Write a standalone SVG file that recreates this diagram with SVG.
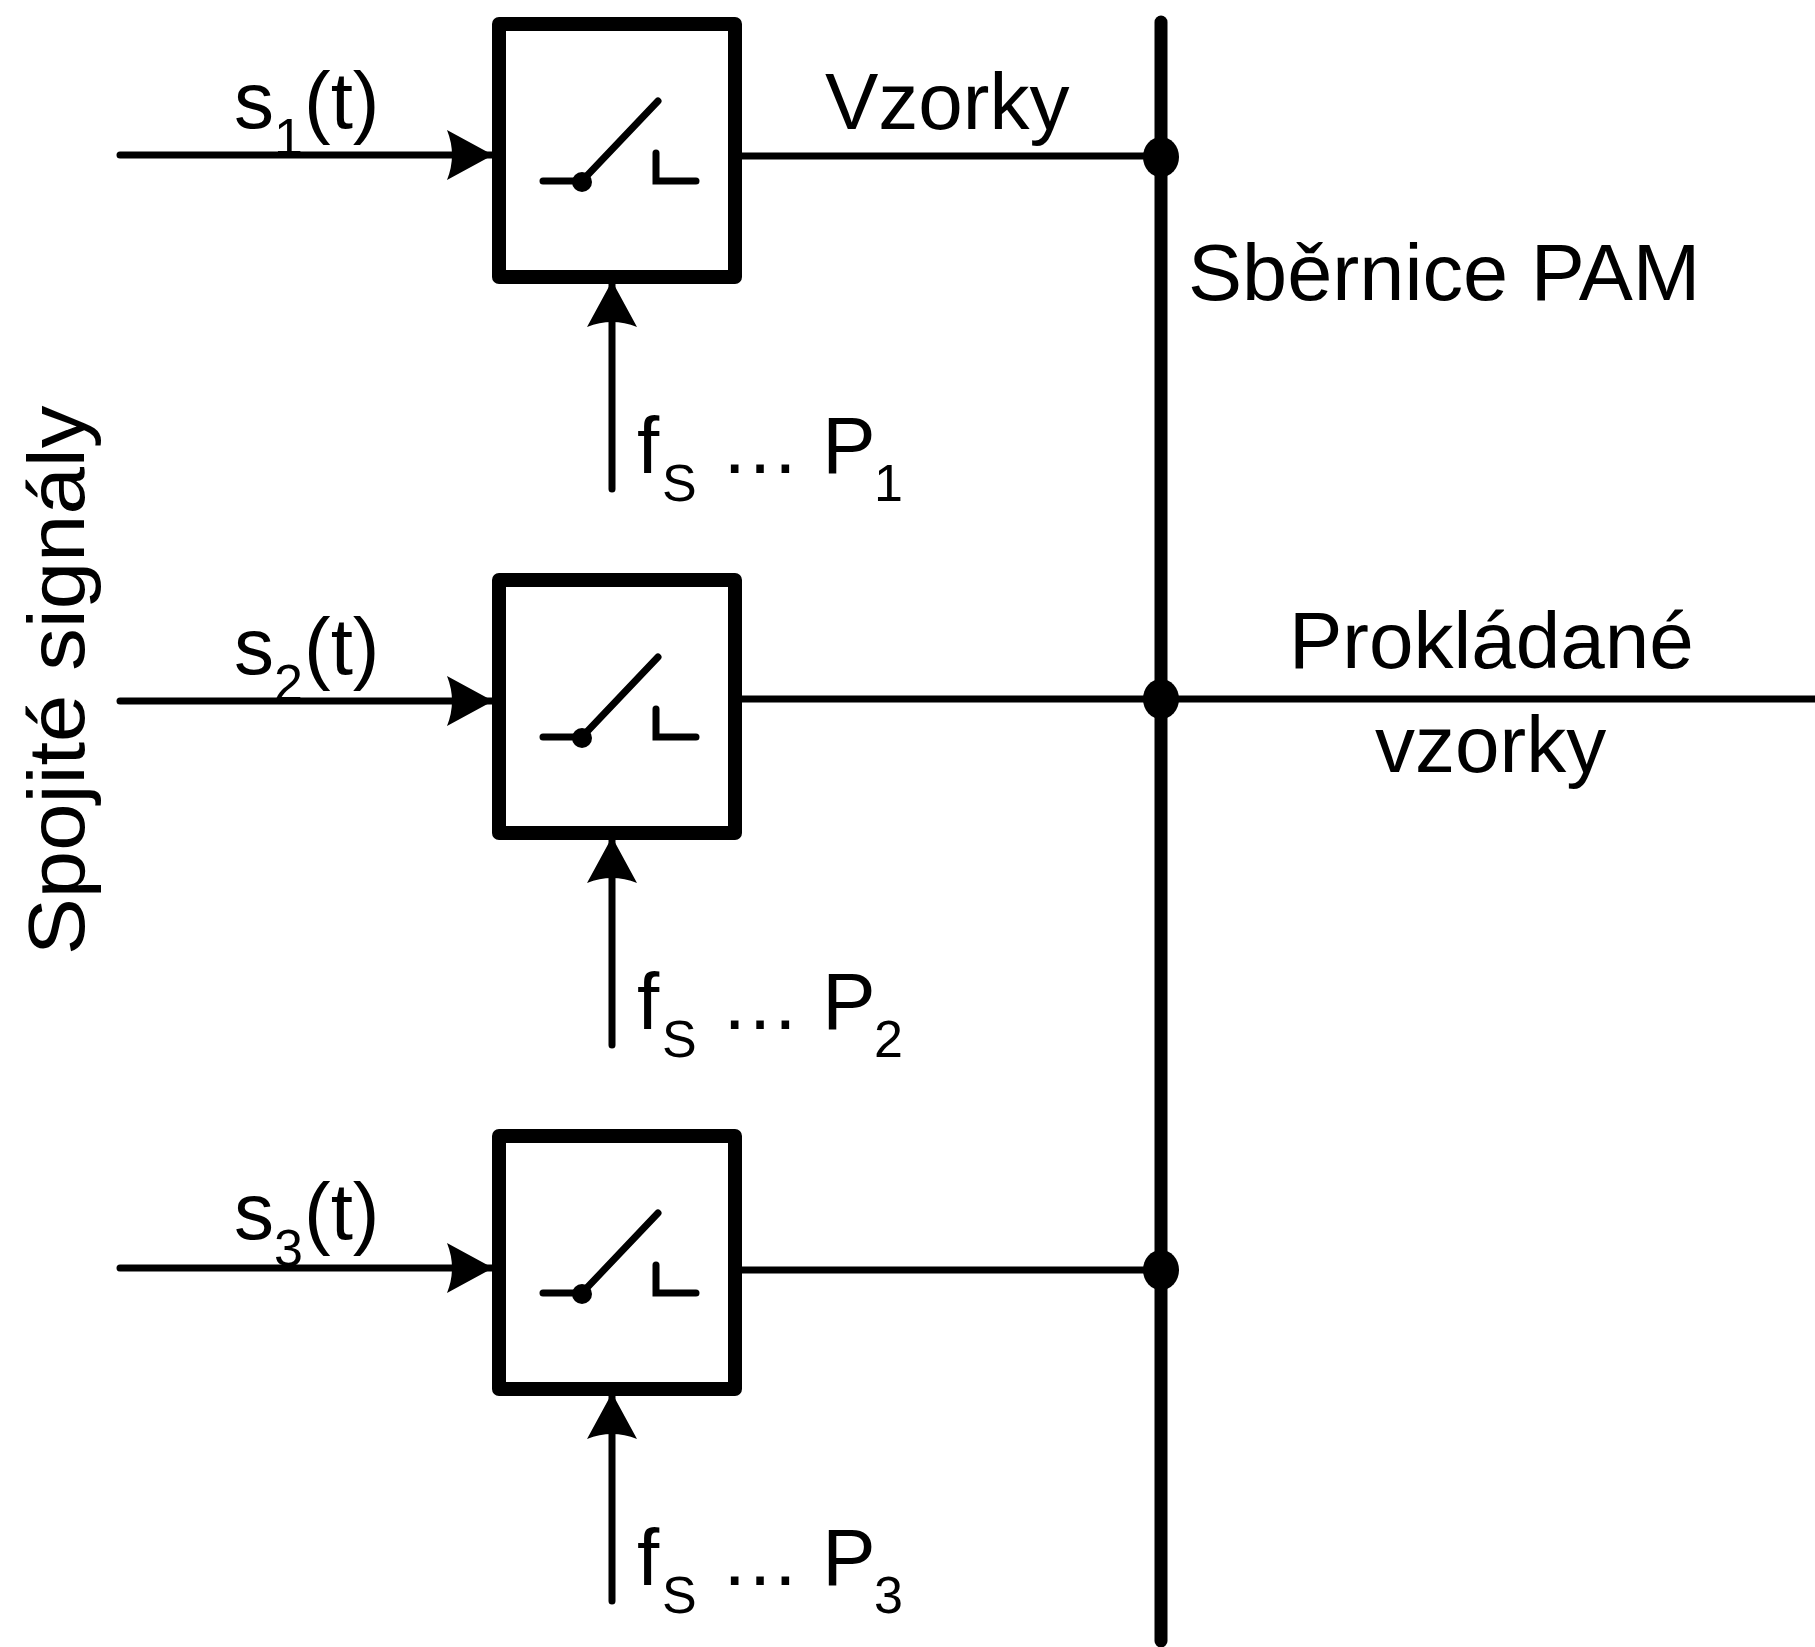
<svg xmlns="http://www.w3.org/2000/svg" width="1815" height="1647" viewBox="0 0 1815 1647">
<defs>
<style>
.t{font-family:"Liberation Sans",Arial,sans-serif;font-size:80px;fill:#000}
.s{font-family:"Liberation Sans",Arial,sans-serif;font-size:52px;fill:#000}
.box{fill:#fff;stroke:#000;stroke-width:14;stroke-linejoin:round}
.ln{fill:none;stroke:#000;stroke-width:7;stroke-linecap:round}
.sw{fill:none;stroke:#000;stroke-width:7;stroke-linecap:round}
.bus{fill:none;stroke:#000;stroke-width:13;stroke-linecap:round}
</style>
<marker id="arr" markerUnits="userSpaceOnUse" markerWidth="48" markerHeight="50" refX="46" refY="25" orient="auto"><path d="M0 0L46 25L0 50Q10 25 0 0Z" fill="#000"/></marker>
<g id="sw"><path class="sw" d="M543 181H582L658 101"/><circle cx="582" cy="182" r="10"/><path class="sw" d="M656 153V181H696"/></g>
</defs>
<rect width="1815" height="1647" fill="#fff"/>
<g id="connectors">
<path class="bus" d="M1161 22V1641"/>
<path class="ln" d="M120 155H493" marker-end="url(#arr)"/>
<path class="ln" d="M120 701H493" marker-end="url(#arr)"/>
<path class="ln" d="M120 1268H493" marker-end="url(#arr)"/>
<path class="ln" d="M612 489V281" marker-end="url(#arr)"/>
<path class="ln" d="M612 1045V837" marker-end="url(#arr)"/>
<path class="ln" d="M612 1601V1393" marker-end="url(#arr)"/>
<path class="ln" d="M741 156H1161"/>
<path class="ln" d="M741 699H1815"/>
<path class="ln" d="M741 1270H1161"/>
<ellipse cx="1161" cy="157" rx="18" ry="20"/>
<ellipse cx="1161" cy="699" rx="18" ry="20"/>
<ellipse cx="1161" cy="1270" rx="18" ry="20"/>
</g>
<g id="switch1"><rect class="box" x="499" y="24" width="236" height="253"/><use href="#sw"/></g>
<g id="switch2"><rect class="box" x="499" y="580" width="236" height="253"/><use href="#sw" y="556"/></g>
<g id="switch3"><rect class="box" x="499" y="1136" width="236" height="253"/><use href="#sw" y="1112"/></g>
<g id="labels">
<g id="s1"><text class="t" x="234" y="128">s</text><text class="s" x="274" y="155">1</text><text class="t" x="304" y="128">(t)</text></g>
<g id="s2"><text class="t" x="234" y="674">s</text><text class="s" x="274" y="701">2</text><text class="t" x="304" y="674">(t)</text></g>
<g id="s3"><text class="t" x="234" y="1239">s</text><text class="s" x="274" y="1266">3</text><text class="t" x="304" y="1239">(t)</text></g>
<text class="t" x="825" y="129">Vzorky</text>
<text class="t" transform="translate(1188 300) scale(1.014 1)">Sběrnice PAM</text>
<text class="t" x="1289" y="668">Prokládané</text>
<text class="t" x="1375" y="772">vzorky</text>
<text class="t" transform="translate(84 955) rotate(-90) scale(1.065 1)">Spojité signály</text>
<g id="f1"><text class="t" x="637" y="473">f</text><text class="s" x="662" y="501">S</text><text class="t" x="720" y="473">… P</text><text class="s" x="874" y="501">1</text></g>
<g id="f2"><text class="t" x="637" y="1029">f</text><text class="s" x="662" y="1057">S</text><text class="t" x="720" y="1029">… P</text><text class="s" x="874" y="1057">2</text></g>
<g id="f3"><text class="t" x="637" y="1585">f</text><text class="s" x="662" y="1613">S</text><text class="t" x="720" y="1585">… P</text><text class="s" x="874" y="1613">3</text></g>
</g>
</svg>
